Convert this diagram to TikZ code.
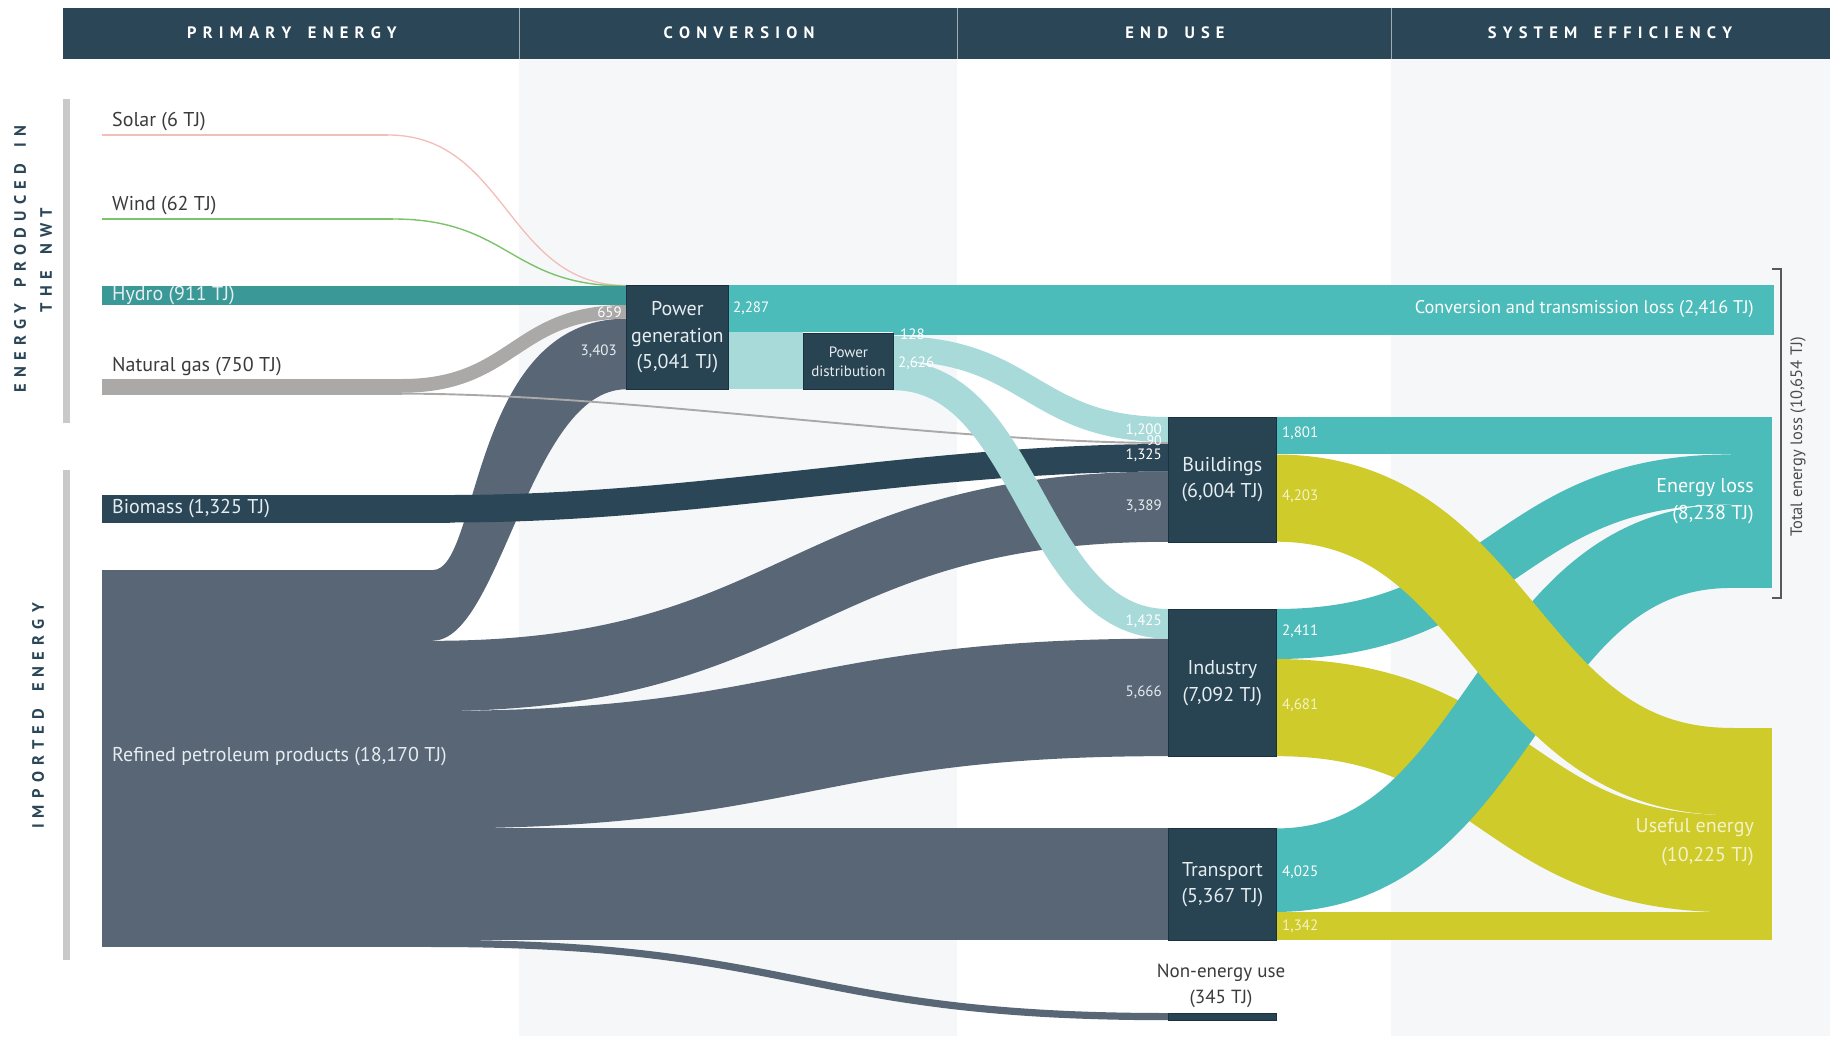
\documentclass[tikz,border=0pt]{standalone}
\usepackage{fontspec}
\setmainfont{PT Sans}
\usetikzlibrary{calc}
\definecolor{hdr}{HTML}{2B4757}
\definecolor{nodebg}{HTML}{284352}
\definecolor{nodeedge}{HTML}{1C3140}
\definecolor{petro}{HTML}{586676}
\definecolor{bio}{HTML}{2B4757}
\definecolor{gasc}{HTML}{ABA8A8}
\definecolor{hydroc}{HTML}{3A9997}
\definecolor{lossc}{HTML}{4BBCB9}
\definecolor{elec}{HTML}{A8DADA}
\definecolor{usefulc}{HTML}{CFCB2A}
\definecolor{solarc}{HTML}{F3BDB8}
\definecolor{windc}{HTML}{7DC36B}
\definecolor{colbg}{HTML}{F5F7F9}
\definecolor{sidebar}{HTML}{C9C9C9}
\definecolor{txtdark}{HTML}{3B3B3B}
\definecolor{txtlight}{HTML}{E6EDF0}
\definecolor{txtyel}{HTML}{F4F2C8}
\newdimen\lsk \lsk=6.2pt
\newcommand\lspaced[1]{\lspacedA#1\relax\kern-\lsk}
\def\lspacedA#1{\ifx\relax#1\else#1\kern\lsk\expandafter\lspacedA\fi}
% flow: color, x0, y0, x1, y1, width, a, b
\newcommand\flow[8]{%
  \begin{scope}
  \clip ({#2-2},-100) rectangle ({#4+2},1200);
  \draw[#1,line width=#6pt] ({#2-3},#3) -- (#2,#3) .. controls ({#2+#7*(#4-#2)},#3) and ({#4-#8*(#4-#2)},#5) .. (#4,#5) -- ({#4+3},#5);
  \end{scope}}
\tikzset{
  hdrtxt/.style={text=white,font=\fontsize{16.5}{18}\selectfont\bfseries,inner sep=0},
  vtxt/.style={text=hdr,font=\fontsize{16.5}{18}\selectfont\bfseries,inner sep=0,rotate=90},
  dnode/.style={fill=nodebg,draw=nodeedge,line width=0.8pt,inner sep=0,anchor=north west,
     text=txtlight,align=center,font=\fontsize{20}{26.5}\selectfont},
  lbl/.style={font=\fontsize{20}{27}\selectfont,inner sep=0},
  num/.style={font=\fontsize{15}{17}\selectfont,inner sep=0},
}
\begin{document}
\begin{tikzpicture}[x=1pt,y=-1pt]
\useasboundingbox (0,0) rectangle (1830,1036);
\fill[white] (0,0) rectangle (1830,1036);
% column backgrounds
\fill[colbg] (519,59) rectangle (957,1036);
\fill[colbg] (1391,59) rectangle (1830,1036);
% header
\fill[hdr] (63,8) rectangle (1830,59);
\foreach \xx in {519,957,1391} \draw[white!55!hdr,line width=1pt] (\xx,8) -- (\xx,59);
\node[hdrtxt] (h1) at (292,33) {\lspaced{PRIMARY~ENERGY}};
\node[hdrtxt] (h2) at (739,33) {\lspaced{CONVERSION}};
\node[hdrtxt] (h3) at (1175,33) {\lspaced{END~USE}};
\node[hdrtxt] (h4) at (1610,33) {\lspaced{SYSTEM~EFFICIENCY}};
% side bars and vertical labels
\fill[sidebar] (63,99) rectangle (70,423);
\fill[sidebar] (63,470) rectangle (70,960);
\node[vtxt] (v1) at (20,259) {\lspaced{ENERGY~PRODUCED~IN}};
\node[vtxt] (v2) at (46,260) {\lspaced{THE~NWT}};
\node[vtxt] (v3) at (38,716) {\lspaced{IMPORTED~ENERGY}};

% ---- primary sources ----
\draw[solarc,line width=1.3pt] (102,135) -- (388,135);
\flow{solarc}{388}{135}{626}{285.5}{1.3}{0.5}{0.5}
\draw[windc,line width=1.4pt] (102,219) -- (393,219);
\flow{windc}{393}{219}{626}{286}{1.4}{0.5}{0.5}
\fill[hydroc] (102,286) rectangle (626,305);

% petroleum
\fill[petro] (102,570) rectangle (433,947);
\fill[petro] (433,570) .. controls (480,570) and (470,318.7) .. (626,318.7)
   -- (626,389.3) .. controls (530,389.3) and (500,640.6) .. (433,640.6) -- cycle;
\flow{petro}{433}{675.95}{1168}{506.65}{70.3}{0.5}{0.5}
\flow{petro}{433}{769.7}{1168}{697.35}{117.55}{0.5}{0.5}
\fill[petro] (433,828.45) rectangle (1168,939.8);
\flow{petro}{433}{943.4}{1168}{1016.6}{7.2}{0.5}{0.5}

% natural gas
\fill[gasc] (102,379) rectangle (402,394.6);
\flow{gasc}{402}{385.85}{626}{311.85}{13.7}{0.5}{0.5}
\flow{gasc}{402}{393.65}{1168}{443}{1.9}{0.3}{0.3}

% biomass
\fill[bio] (102,495) rectangle (450,522.5);
\flow{bio}{450}{508.75}{1168}{457.75}{27.5}{0.35}{0.35}

% conversion
\fill[elec] (728,332.4) rectangle (803,389.3);
\fill[lossc] (728,285) rectangle (1774,332.4);
\fill[lossc] (893,332.4) rectangle (1774,335);
\flow{elec}{893}{348.6}{1168}{429.5}{25}{0.5}{0.5}
\flow{elec}{893}{375.4}{1168}{623.8}{29.6}{0.5}{0.5}

% ---- end use to efficiency ----
\fill[lossc] (1276,417) rectangle (1772,454.4);
\flow{lossc}{1276}{634}{1731}{479.4}{50}{0.5}{0.5}
\flow{usefulc}{1276}{707.6}{1731}{863.65}{97.1}{0.5}{0.5}
\flow{lossc}{1276}{870.2}{1731}{546.2}{83.5}{0.5}{0.5}
\flow{usefulc}{1276}{498.1}{1731}{771.5}{87.2}{0.5}{0.5}
\fill[usefulc] (1276,911.95) rectangle (1772,939.8);
\fill[lossc] (1731,417) rectangle (1772,587.9);
\fill[usefulc] (1731,727.9) rectangle (1772,939.8);

% ---- nodes ----
\node[dnode,minimum width=102pt,minimum height=104.3pt] (pg) at (626,285) {Power\\generation\\(5,041 TJ)};
\node[dnode,minimum width=90pt,minimum height=56.3pt,font=\fontsize{15}{19}\selectfont] (pd) at (803,333) {Power\\distribution};
\node[dnode,minimum width=108pt,minimum height=124.6pt] (bld) at (1168,417) {Buildings\\(6,004 TJ)};
\node[dnode,minimum width=108pt,minimum height=147.1pt] (ind) at (1168,609) {Industry\\(7,092 TJ)};
\node[dnode,minimum width=108pt,minimum height=111.35pt] (trn) at (1168,828.45) {Transport\\(5,367 TJ)};
\node[dnode,minimum width=108pt,minimum height=7pt] (ne) at (1168,1013) {};
\node[lbl,text=txtdark,align=center,font=\fontsize{19}{26}\selectfont] (nel) at (1221,986) {Non-energy use\\(345 TJ)};

% ---- source labels ----
\node[lbl,anchor=west,text=txtdark] (ls) at (112,122) {Solar (6 TJ)};
\node[lbl,anchor=west,text=txtdark] (lw) at (112,206) {Wind (62 TJ)};
\node[lbl,anchor=west,text=txtlight] (lh) at (112,296) {Hydro (911 TJ)};
\node[lbl,anchor=west,text=txtdark] (lg) at (112,367) {Natural gas (750 TJ)};
\node[lbl,anchor=west,text=txtlight] (lb) at (112,509) {Biomass (1,325 TJ)};
\node[lbl,anchor=west,text=txtlight] (lp) at (112,757) {Refined petroleum products (18,170 TJ)};

% ---- right labels ----
\node[lbl,anchor=east,text=white,font=\fontsize{18.3}{24}\selectfont] (lct) at (1754,309) {Conversion and transmission loss (2,416 TJ)};
\node[lbl,anchor=east,align=right,text=white] (lel) at (1754,501) {Energy loss\\(8,238 TJ)};
\node[lbl,anchor=east,align=right,text=txtyel,font=\fontsize{20}{29}\selectfont] (lue) at (1754,842.5) {Useful energy\\(10,225 TJ)};
\draw[black!65,line width=1.3pt] (1772,269) -- (1781,269) -- (1781,598) -- (1772,598);
\node[text=black!70,font=\fontsize{16.5}{18}\selectfont,rotate=90,inner sep=0] (ltot) at (1798,437) {Total energy loss (10,654 TJ)};

% ---- numbers ----
\node[num,anchor=east,text=white] (n659) at (622,312) {659};
\node[num,anchor=east,text=txtlight] (n3403) at (617,351) {3,403};
\node[num,anchor=west,text=white] (n2287) at (733,308) {2,287};
\node[num,anchor=west,text=white] (n128) at (900,334) {128};
\node[num,anchor=west,text=white] (n2626) at (898,363) {2,626};
\node[num,anchor=east,text=white] (n1200) at (1162,430) {1,200};
\node[num,anchor=east,text=white,font=\fontsize{14}{15}\selectfont] (n90) at (1162,441) {90};
\node[num,anchor=east,text=white] (n1325) at (1162,455) {1,325};
\node[num,anchor=east,text=txtlight] (n3389) at (1162,506) {3,389};
\node[num,anchor=east,text=white] (n1425) at (1162,621) {1,425};
\node[num,anchor=east,text=txtlight] (n5666) at (1162,692) {5,666};
\node[num,anchor=west,text=white] (n1801) at (1282,433) {1,801};
\node[num,anchor=west,text=txtyel] (n4203) at (1282,496) {4,203};
\node[num,anchor=west,text=white] (n2411) at (1282,631) {2,411};
\node[num,anchor=west,text=txtyel] (n4681) at (1282,705) {4,681};
\node[num,anchor=west,text=white] (n4025) at (1282,872) {4,025};
\node[num,anchor=west,text=txtyel] (n1342) at (1282,926) {1,342};
\end{tikzpicture}
\end{document}
